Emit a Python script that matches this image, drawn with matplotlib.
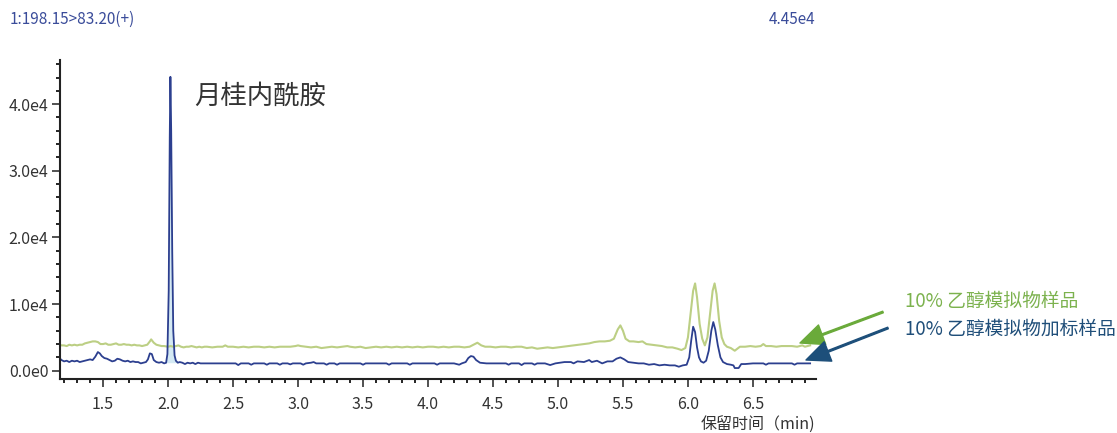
import numpy as np
import matplotlib
matplotlib.use("Agg")
import matplotlib.pyplot as plt
from matplotlib.ticker import MultipleLocator

plt.rcParams['font.family'] = ['Noto Sans CJK SC', 'DejaVu Sans']

# 保留时间 (min) 与响应强度 (单位: 1e3)
blue_t = [1.165, 1.18, 1.20, 1.22, 1.24, 1.26, 1.28, 1.30, 1.32, 1.34, 1.36, 1.38, 1.40, 1.42, 1.44,
          1.46, 1.475, 1.49, 1.51, 1.53, 1.55, 1.57, 1.59, 1.61, 1.63, 1.65, 1.67, 1.69, 1.71, 1.73,
          1.75, 1.77, 1.79, 1.81, 1.83, 1.845, 1.86, 1.875, 1.89, 1.91, 1.93, 1.95, 1.97, 1.985,
          1.995, 2.005, 2.013, 2.018, 2.024, 2.032, 2.04, 2.05, 2.06, 2.075, 2.09, 2.11, 2.13, 2.15,
          2.17, 2.19, 2.21, 2.23, 2.25, 2.30, 2.40, 2.52, 2.54, 2.56, 2.62, 2.64, 2.66, 2.74, 2.76,
          2.78, 2.84, 2.86, 2.88, 2.92, 2.94, 2.96, 3.02, 3.04, 3.06, 3.10, 3.12, 3.14, 3.20, 3.22,
          3.24, 3.28, 3.30, 3.32, 3.48, 3.50, 3.52, 3.68, 3.70, 3.72, 3.84, 3.86, 3.88, 4.05, 4.07,
          4.09, 4.20, 4.24, 4.26, 4.29, 4.31, 4.33, 4.35, 4.37, 4.40, 4.45, 4.60, 4.62, 4.64, 4.70,
          4.72, 4.74, 4.80, 4.82, 4.84, 4.90, 4.94, 4.98, 5.05, 5.10, 5.12, 5.15, 5.20, 5.24, 5.26,
          5.30, 5.34, 5.38, 5.42, 5.45, 5.48, 5.51, 5.54, 5.58, 5.62, 5.66, 5.70, 5.74, 5.78, 5.82,
          5.86, 5.90, 5.93, 5.96, 5.99, 6.01, 6.025, 6.04, 6.055, 6.07, 6.085, 6.10, 6.12, 6.14,
          6.16, 6.18, 6.195, 6.21, 6.23, 6.25, 6.27, 6.30, 6.33, 6.35, 6.36, 6.39, 6.41, 6.44, 6.50,
          6.58, 6.60, 6.62, 6.80, 6.82, 6.84, 6.94]
blue_k = [1.9, 1.6, 1.4, 1.5, 1.3, 1.5, 1.4, 1.5, 1.3, 1.4, 1.5, 1.6, 1.7, 1.6, 2.1,
          2.8, 2.6, 2.2, 1.9, 1.8, 1.6, 1.4, 1.5, 1.8, 1.7, 1.5, 1.4, 1.5, 1.3, 1.4,
          1.3, 1.3, 1.1, 1.2, 1.3, 1.7, 2.6, 2.5, 1.6, 1.3, 1.2, 1.3, 1.1, 1.2,
          2.5, 12.0, 35.0, 44.1, 36.0, 18.0, 6.0, 2.3, 1.5, 1.2, 1.3, 1.2, 1.0, 1.2,
          1.1, 1.2, 1.0, 1.2, 1.1, 1.1, 1.1, 1.1, 0.85, 1.1, 1.1, 0.9, 1.1, 1.1, 0.9,
          1.1, 1.1, 0.9, 1.1, 1.1, 0.95, 1.1, 1.1, 0.9, 1.1, 1.2, 1.3, 1.1, 1.1, 0.9,
          1.1, 1.1, 0.9, 1.1, 1.1, 0.9, 1.1, 1.1, 0.9, 1.1, 1.1, 0.9, 1.1, 1.1, 0.9,
          1.1, 1.1, 0.9, 1.1, 1.3, 1.9, 2.2, 2.1, 1.6, 1.2, 1.1, 1.1, 0.9, 1.1, 1.1,
          0.85, 1.1, 1.1, 0.9, 1.1, 1.1, 0.85, 1.1, 1.3, 1.3, 1.1, 1.4, 1.3, 1.6, 1.3,
          1.5, 1.1, 1.4, 1.4, 1.8, 2.0, 1.7, 1.3, 1.2, 1.1, 1.1, 0.9, 1.0, 0.8, 0.9,
          0.8, 0.8, 0.6, 0.8, 0.9, 2.0, 4.5, 6.6, 5.8, 3.5, 2.0, 1.4, 1.2, 1.5,
          3.0, 6.0, 7.3, 6.2, 3.8, 2.0, 1.3, 1.0, 0.9, 0.8, 0.4, 0.4, 1.0, 1.0, 1.1,
          1.1, 0.9, 1.1, 1.1, 0.9, 1.1, 1.1]

green_t = [1.165, 1.18, 1.20, 1.22, 1.24, 1.26, 1.28, 1.30, 1.32, 1.34, 1.36, 1.38, 1.40, 1.42,
           1.44, 1.46, 1.48, 1.50, 1.52, 1.54, 1.56, 1.58, 1.60, 1.62, 1.64, 1.66, 1.68, 1.70,
           1.72, 1.74, 1.76, 1.78, 1.80, 1.82, 1.84, 1.86, 1.87, 1.89, 1.91, 1.93, 1.95, 1.97,
           2.00, 2.02, 2.04, 2.06, 2.08, 2.10, 2.12, 2.14, 2.16, 2.18, 2.20, 2.22, 2.24, 2.26,
           2.28, 2.30, 2.34, 2.38, 2.42, 2.44, 2.46, 2.50, 2.54, 2.58, 2.62, 2.66, 2.70, 2.74,
           2.78, 2.82, 2.86, 2.90, 2.94, 2.98, 3.00, 3.02, 3.06, 3.10, 3.14, 3.18, 3.22, 3.26,
           3.30, 3.34, 3.38, 3.40, 3.44, 3.48, 3.52, 3.56, 3.60, 3.64, 3.68, 3.72, 3.76, 3.80,
           3.84, 3.88, 3.92, 3.96, 4.00, 4.04, 4.08, 4.12, 4.16, 4.20, 4.24, 4.28, 4.32, 4.35,
           4.38, 4.41, 4.44, 4.48, 4.52, 4.56, 4.60, 4.64, 4.68, 4.72, 4.76, 4.80, 4.84, 4.88,
           4.92, 4.96, 5.00, 5.04, 5.08, 5.12, 5.16, 5.20, 5.24, 5.28, 5.32, 5.36, 5.40, 5.43,
           5.46, 5.48, 5.50, 5.52, 5.55, 5.58, 5.62, 5.65, 5.68, 5.72, 5.76, 5.80, 5.84, 5.88,
           5.92, 5.95, 5.98, 6.00, 6.02, 6.04, 6.055, 6.07, 6.09, 6.11, 6.13, 6.15, 6.17, 6.19,
           6.205, 6.22, 6.24, 6.26, 6.28, 6.30, 6.33, 6.36, 6.38, 6.40, 6.44, 6.48, 6.52, 6.56,
           6.58, 6.60, 6.64, 6.68, 6.72, 6.76, 6.80, 6.84, 6.88, 6.90, 6.94]
green_k = [3.9, 3.8, 3.8, 3.7, 3.9, 3.8, 3.9, 3.8, 3.9, 3.9, 4.1, 4.2, 4.3, 4.4,
           4.4, 4.3, 4.0, 4.0, 4.1, 3.9, 3.9, 4.0, 4.1, 3.9, 3.9, 4.0, 3.9, 3.9,
           3.8, 3.9, 3.8, 3.8, 3.7, 3.8, 3.9, 4.4, 4.7, 4.2, 3.9, 3.8, 3.7, 3.7,
           3.6, 3.7, 3.6, 3.7, 3.8, 3.6, 3.5, 3.6, 3.6, 3.7, 3.6, 3.5, 3.6, 3.5,
           3.6, 3.6, 3.5, 3.6, 3.6, 3.8, 3.6, 3.6, 3.5, 3.6, 3.5, 3.6, 3.6, 3.5,
           3.6, 3.5, 3.6, 3.6, 3.6, 3.7, 3.8, 3.7, 3.6, 3.5, 3.6, 3.4, 3.5, 3.6,
           3.5, 3.6, 3.7, 3.6, 3.5, 3.6, 3.4, 3.5, 3.6, 3.5, 3.6, 3.5, 3.6, 3.5,
           3.6, 3.5, 3.6, 3.5, 3.6, 3.6, 3.5, 3.6, 3.5, 3.6, 3.6, 3.5, 3.6, 3.9,
           4.2, 3.8, 3.6, 3.6, 3.5, 3.6, 3.6, 3.5, 3.6, 3.6, 3.4, 3.5, 3.3, 3.4,
           3.5, 3.4, 3.5, 3.6, 3.7, 3.8, 3.9, 4.0, 4.1, 4.3, 4.4, 4.4, 4.5, 4.8,
           6.2, 6.8, 6.0, 4.8, 4.4, 4.4, 4.3, 4.4, 4.0, 3.9, 3.8, 3.7, 3.5, 3.5,
           3.3, 3.1, 3.4, 5.0, 8.5, 12.0, 13.1, 11.0, 7.0, 4.8, 3.8, 5.0, 8.5, 12.0,
           13.1, 11.5, 7.5, 5.0, 4.0, 3.6, 3.4, 3.0, 3.3, 3.6, 3.6, 3.7, 3.6, 3.7,
           4.0, 3.7, 3.7, 3.6, 3.7, 3.7, 3.7, 3.6, 3.8, 3.6, 3.8]

y_ticks = [0, 10000, 20000, 30000, 40000]
y_labels = ["0.0e0", "1.0e4", "2.0e4", "3.0e4", "4.0e4"]
x_ticks = [1.5, 2.0, 2.5, 3.0, 3.5, 4.0, 4.5, 5.0, 5.5, 6.0, 6.5]

blue_t = np.array(blue_t)
blue_y = np.array(blue_k) * 1000
green_t = np.array(green_t)
green_y = np.array(green_k) * 1000

fig = plt.figure(figsize=(11.17, 4.33), dpi=100)
ax = fig.add_axes([0.0533, 0.124, 0.6772, 0.737])

ax.plot(green_t, green_y, color="#bccf84", lw=1.5)
# 月桂内酰胺峰的填充
pico = (blue_t >= 1.985) & (blue_t <= 2.075)
ax.fill_between(blue_t[pico], 1200, blue_y[pico], color="#d4e9f3", lw=0)
ax.plot(blue_t, blue_y, color="#2c3f8f", lw=1.3)

ax.set_xlim(1.165, 6.985)
ax.set_ylim(-1290, 46600)
ax.set_xticks(x_ticks)
ax.set_xticklabels([f"{v:.1f}" for v in x_ticks])
ax.set_yticks(y_ticks)
ax.set_yticklabels(y_labels)
ax.xaxis.set_minor_locator(MultipleLocator(0.1))
ax.yaxis.set_minor_locator(MultipleLocator(2000))
ax.tick_params(which="major", direction="out", length=6, width=1.2, labelsize=11.5, colors="#333333")
ax.tick_params(which="minor", direction="out", length=3, width=1.2)
ax.tick_params(axis="x", pad=6)
ax.tick_params(axis="y", pad=2)
for s in ["top", "right"]:
    ax.spines[s].set_visible(False)
for s in ["left", "bottom"]:
    ax.spines[s].set_linewidth(1.5)
    ax.spines[s].set_color("#222222")

ax.text(2.2, 41200, "月桂内酰胺", fontsize=19, color="#333333", va="center")

fig.text(10 / 1117, 1 - 19 / 433, "1:198.15>83.20(+)", color="#3a4c9a", fontsize=11, va="center")
fig.text(815 / 1117, 1 - 19 / 433, "4.45e4", color="#3a4c9a", fontsize=11, va="center", ha="right")
fig.text(815 / 1117, 1 - 425 / 433, "保留时间（min)", color="#333333", fontsize=11.5, va="center", ha="right")

# 图例文字与箭头
fig.text(905 / 1117, 1 - 301 / 433, "10% 乙醇模拟物样品", color="#7cb24e", fontsize=13.5, va="center")
fig.text(905 / 1117, 1 - 329 / 433, "10% 乙醇模拟物加标样品", color="#1f4e79", fontsize=13.5, va="center")
ax.annotate("", xy=(800 / 1117, 1 - 343 / 433), xytext=(883 / 1117, 1 - 312 / 433),
            xycoords="figure fraction", textcoords="figure fraction",
            arrowprops=dict(color="#6aaa3a", width=1.2, headwidth=15, headlength=17, shrink=0))
ax.annotate("", xy=(806 / 1117, 1 - 360 / 433), xytext=(888 / 1117, 1 - 328 / 433),
            xycoords="figure fraction", textcoords="figure fraction",
            arrowprops=dict(color="#1d4f7a", width=1.2, headwidth=15, headlength=17, shrink=0))

fig.savefig("out.png", dpi=100)
